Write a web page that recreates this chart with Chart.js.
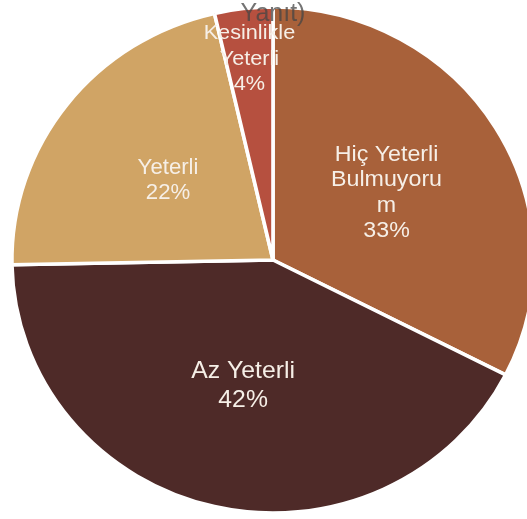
<!DOCTYPE html>
<html><head><meta charset="utf-8">
<script src="https://cdn.jsdelivr.net/npm/chart.js@4"></script>
<style>html,body{margin:0;padding:0;background:#fff;overflow:hidden}#wrap{width:527px;height:519px;position:relative}</style>
</head><body><div id="wrap"><canvas id="c"></canvas></div>
<script>
const categories = ['Hiç Yeterli Bulmuyorum', 'Az Yeterli', 'Yeterli', 'Kesinlikle Yeterli'];
const values = [32.5, 42.2, 21.7, 3.6];
const percentLabels = ['33%', '42%', '22%', '4%'];
const labelLines = [['Hiç Yeterli', 'Bulmuyoru', 'm'], ['Az Yeterli'], ['Yeterli'], ['Kesinlikle', 'Yeterli']];
const colors = ['#A8613A', '#4E2A28', '#D0A465', '#B6503F'];
const clippedLabel = 'Yanıt)';

const SX = 1.032;
const labelStyle = [
  {frac: 0.51, size: 22.5, lh: 25.5},
  {frac: 0.51, size: 24, lh: 29},
  {frac: 0.51, size: 21.5, lh: 25},
  {frac: 0.80, size: 21, lh: 25.5}
];

const stretchAndLabels = {
  id: 'stretchAndLabels',
  beforeDatasetsDraw(chart) {
    const a = chart.getDatasetMeta(0).data[0];
    const ctx = chart.ctx;
    ctx.save();
    ctx.translate(a.x, a.y); ctx.scale(SX, 1); ctx.translate(-a.x, -a.y);
  },
  afterDatasetsDraw(chart) {
    const ctx = chart.ctx;
    ctx.restore();
    const arcs = chart.getDatasetMeta(0).data;
    ctx.save();
    ctx.textAlign = 'center';
    ctx.textBaseline = 'middle';
    arcs.forEach((a, i) => {
      const st = labelStyle[i];
      const mid = (a.startAngle + a.endAngle) / 2;
      const r = a.outerRadius * st.frac;
      const px = a.x + Math.cos(mid) * r * SX;
      const py = a.y + Math.sin(mid) * r;
      const lines = labelLines[i].concat([percentLabels[i]]);
      ctx.font = st.size + 'px "Liberation Sans", Arial, sans-serif';
      ctx.fillStyle = '#F6EFE7';
      lines.forEach((t, k) => {
        const y = py + (k - (lines.length - 1) / 2) * st.lh;
        ctx.save();
        ctx.translate(px, y); ctx.scale(SX, 1);
        ctx.fillText(t, 0, 0);
        ctx.restore();
      });
    });
    const a0 = arcs[0];
    ctx.font = '25px "Liberation Sans", Arial, sans-serif';
    ctx.fillStyle = 'rgba(70,70,70,0.75)';
    ctx.fillText(clippedLabel, a0.x, a0.y - a0.outerRadius + 7);
    ctx.restore();
  }
};

new Chart(document.getElementById('c'), {
  type: 'pie',
  data: {
    labels: categories,
    datasets: [{
      data: values,
      backgroundColor: colors,
      borderColor: '#ffffff',
      borderWidth: 3.5,
      clip: false
    }]
  },
  options: {
    responsive: true,
    maintainAspectRatio: false,
    animation: false,
    radius: 253,
    layout: {padding: {left: 19, right: 0, top: 1, bottom: 0}},
    plugins: {legend: {display: false}, tooltip: {enabled: false}, title: {display: false}}
  },
  plugins: [stretchAndLabels]
});
</script>
</body></html>
